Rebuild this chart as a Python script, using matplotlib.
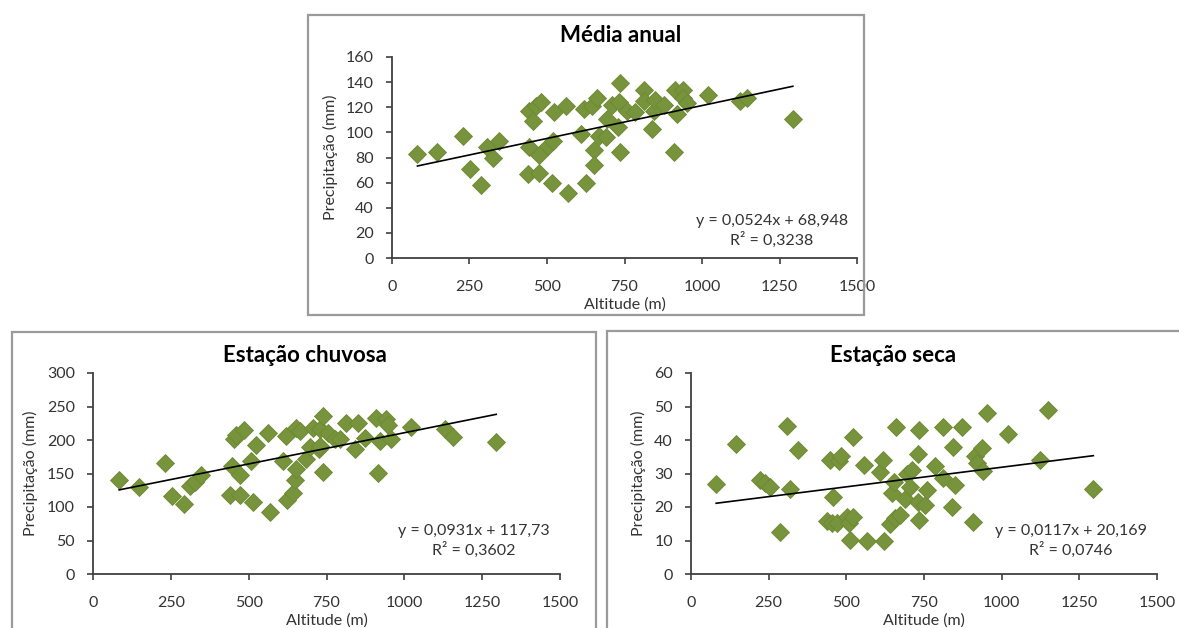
import numpy as np
import matplotlib
matplotlib.use("Agg")
import matplotlib.pyplot as plt
from matplotlib.patches import Rectangle

plt.rcParams['font.family'] = ['Lato', 'DejaVu Sans']

# --- data ---
# Média anual
alt_anual = [82, 146, 230, 253, 288, 307, 326, 345, 438, 443, 443, 454, 465, 473, 473,
             481, 502, 516, 518, 524, 561, 569, 609, 620, 625, 646, 652, 652, 662, 668,
             689, 694, 710, 730, 732, 737, 737, 758, 785, 812, 812, 839, 844, 849, 876,
             911, 913, 919, 940, 940, 951, 1020, 1122, 1146, 1293]
prec_anual = [83, 84, 97, 71, 58, 88, 80, 93, 67, 88, 117, 109, 121, 68, 82,
              124, 89, 60, 93, 116, 121, 52, 99, 119, 60, 121, 86, 74, 127, 97,
              96, 111, 122, 104, 124, 139, 84, 117, 116, 134, 125, 103, 117, 126, 122,
              84, 134, 115, 134, 127, 123, 130, 125, 127, 111]

# Estação chuvosa
alt_chuvosa = [84, 148, 230, 255, 291, 311, 327, 348, 439, 447, 452, 460, 471, 471, 484,
               509, 514, 525, 562, 570, 610, 621, 623, 642, 648, 651, 653, 664, 685, 696,
               707, 726, 728, 728, 739, 739, 755, 776, 792, 814, 840, 851, 873, 910, 915,
               921, 940, 947, 958, 1022, 1130, 1156, 1295]
prec_chuvosa = [140, 130, 166, 117, 105, 131, 138, 148, 118, 161, 202, 207, 118, 148, 215,
                168, 108, 192, 211, 92, 168, 206, 110, 121, 141, 156, 218, 213, 171, 190,
                218, 186, 191, 216, 236, 152, 211, 202, 201, 226, 186, 226, 203, 233, 151,
                198, 232, 222, 201, 220, 217, 205, 197]

# Estação seca
alt_seca = [81, 146, 223, 239, 253, 287, 309, 319, 343, 437, 446, 453, 456, 470, 478,
            483, 502, 507, 512, 521, 523, 558, 568, 607, 619, 622, 641, 646, 652, 657,
            660, 673, 689, 695, 705, 711, 732, 732, 735, 735, 753, 759, 786, 810, 812,
            839, 842, 850, 871, 909, 914, 922, 936, 941, 952, 1021, 1123, 1150, 1295]
prec_seca = [26.9, 38.8, 28.1, 27.1, 26.1, 12.4, 44.3, 25.3, 36.9, 15.7, 33.9, 15.2, 23.1, 15.2, 33.6,
             35.1, 17.1, 15.2, 10.2, 16.9, 40.9, 32.6, 10.0, 30.3, 33.9, 10.0, 15.0, 24.3, 27.6, 16.6,
             43.8, 17.6, 22.3, 29.9, 26.1, 30.9, 21.6, 35.9, 16.0, 43.1, 20.6, 25.1, 32.3, 43.9, 28.6,
             20.1, 37.9, 26.6, 43.9, 15.4, 35.3, 33.1, 37.6, 30.6, 48.1, 41.9, 34.1, 48.9, 25.3]

# trend lines as printed on the chart
titles = ['Média anual', 'Estação chuvosa', 'Estação seca']
slopes = [0.0524, 0.0931, 0.0117]
intercepts = [68.948, 117.73, 20.169]
r2_values = ['0,3238', '0,3602', '0,0746']
eq_texts = ['y = 0,0524x + 68,948', 'y = 0,0931x + 117,73', 'y = 0,0117x + 20,169']
y_limits = [(0, 160, 20), (0, 300, 50), (0, 60, 10)]

W, H = 1179, 628
fig = plt.figure(figsize=(W / 100, H / 100), dpi=100)

def px_axes(left, top, right, bottom):
    return fig.add_axes([left / W, 1 - bottom / H, (right - left) / W, (bottom - top) / H])

# frames around each chart (like the excel chart areas)
frames = [(308, 15, 864, 315), (12, 332, 596, 640), (607, 331, 1190, 640)]
for l, t, r, b in frames:
    fig.patches.append(Rectangle((l / W, 1 - b / H), (r - l) / W, (b - t) / H,
                                 transform=fig.transFigure, fill=False,
                                 edgecolor='#9a9a9a', linewidth=1.6))

axes_px = [(392, 57, 857, 258), (93, 373, 560, 574), (691, 373, 1157, 574)]
title_pos = [(621, 36), (305, 356), (893, 356)]
eq_pos = [(848, 231), (550, 541), (1147, 541)]

datasets = [(alt_anual, prec_anual), (alt_chuvosa, prec_chuvosa), (alt_seca, prec_seca)]
green = '#77933c'

for i, (x, y) in enumerate(datasets):
    ax = px_axes(*axes_px[i])
    ax.plot(x, y, linestyle='none', marker='D', markersize=9.5,
            markerfacecolor=green, markeredgecolor='#6b8a33', markeredgewidth=0.6, zorder=3)
    xs = np.array([min(x), max(x)])
    ax.plot(xs, slopes[i] * xs + intercepts[i], color='black', linewidth=1.2, zorder=4)

    lo, hi, step = y_limits[i]
    ax.set_xlim(0, 1500)
    ax.set_ylim(lo, hi)
    ax.set_xticks(range(0, 1501, 250))
    ax.set_yticks(np.arange(lo, hi + step / 2, step))
    for s in ['top', 'right']:
        ax.spines[s].set_visible(False)
    for s in ['left', 'bottom']:
        ax.spines[s].set_color('#404040')
        ax.spines[s].set_linewidth(1.3)
    ax.tick_params(direction='out', length=4, width=1.2, color='#404040',
                   labelsize=11.5, labelcolor='#333333')
    ax.tick_params(axis='x', pad=12)
    ax.tick_params(axis='y', pad=9)
    ax.set_xlabel('Altitude (m)', fontsize=11.5, color='#333333', labelpad=2)
    ax.set_ylabel('Precipitação (mm)', fontsize=11.5, color='#333333', labelpad=6)
    ax.patch.set_alpha(0)

    tx, ty = title_pos[i]
    fig.text(tx / W, 1 - ty / H, titles[i], ha='center', va='center',
             fontsize=16, fontweight='bold', color='black')
    ex, ey = eq_pos[i]
    fig.text(ex / W, 1 - ey / H, eq_texts[i] + '\nR² = ' + r2_values[i],
             ha='right', va='center', multialignment='center',
             fontsize=11.5, color='#333333', linespacing=1.3)

fig.savefig('out.png', dpi=100)
